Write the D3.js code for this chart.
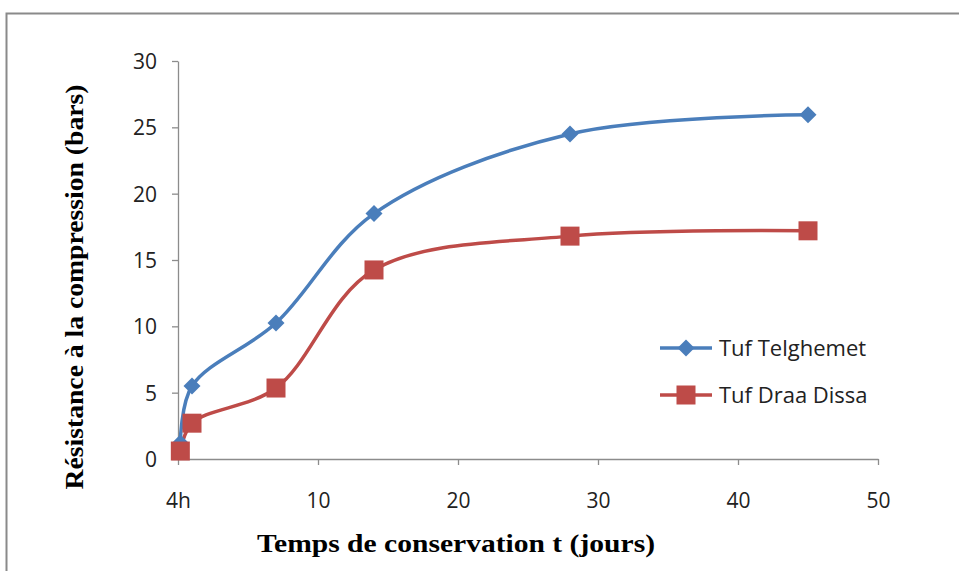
<!DOCTYPE html>
<html><head><meta charset="utf-8">
<script src="https://cdn.jsdelivr.net/npm/d3@7"></script>
<style>body{margin:0;background:#fff;} svg{display:block;}</style>
</head><body>
<svg id="c" width="959" height="571"></svg>
<script>
const days = [1/6, 1, 7, 14, 28, 45];
const telghemet = [1.2, 5.5, 10.25, 18.5, 24.5, 25.95];
const draaDissa = [0.6, 2.7, 5.35, 14.25, 16.8, 17.2];
const xTicks = [0, 10, 20, 30, 40, 50];
const xTickLabels = ["4h", "10", "20", "30", "40", "50"];
const yTicks = [0, 5, 10, 15, 20, 25, 30];
const seriesNames = ["Tuf Telghemet", "Tuf Draa Dissa"];
const colors = ["#4a7ebb", "#be4b48"];
const sans = "'Open Sans', 'Noto Sans', sans-serif";
const serif = "'Liberation Serif', 'Times New Roman', serif";

const svg = d3.select("#c");
svg.append("rect").attr("x", 6.5).attr("y", 13.5).attr("width", 1000).attr("height", 1000)
  .attr("fill", "#fff").attr("stroke", "#8a8a8a").attr("stroke-width", 2);

const x = d3.scaleLinear().domain([0, 50]).range([178, 878]);
const y = d3.scaleLinear().domain([0, 30]).range([459, 61]);
const axisColor = "#8c8c8c";

const gx = svg.append("g").attr("transform", "translate(0,459)")
  .call(d3.axisBottom(x).tickValues(xTicks).tickSize(6).tickSizeOuter(0)
    .tickFormat((d, i) => xTickLabels[i]));
gx.select(".domain").attr("stroke", axisColor).attr("stroke-width", 1.3);
gx.selectAll(".tick line").attr("stroke", axisColor).attr("stroke-width", 1.3);
gx.selectAll(".tick text").attr("fill", "#222").attr("font-family", sans)
  .attr("font-size", 21).attr("dy", 0).attr("y", 49);

const gy = svg.append("g").attr("transform", "translate(178,0)")
  .call(d3.axisLeft(y).tickValues(yTicks).tickSize(6).tickSizeOuter(0));
gy.select(".domain").attr("stroke", axisColor).attr("stroke-width", 1.3);
gy.selectAll(".tick line").attr("stroke", axisColor).attr("stroke-width", 1.3);
gy.selectAll(".tick text").attr("fill", "#222").attr("font-family", sans)
  .attr("font-size", 21).attr("x", -21).attr("dy", "0.35em");

const line = d3.line().x(d => x(d[0])).y(d => y(d[1])).curve(d3.curveCatmullRom.alpha(0.5));
const data = [telghemet, draaDissa].map(s => days.map((d, i) => [d, s[i]]));

data.forEach((pts, k) => {
  svg.append("path").datum(pts).attr("d", line).attr("fill", "none")
    .attr("stroke", colors[k]).attr("stroke-width", 3.5);
});
const diamondPath = d3.symbol().type(d3.symbolSquare).size(145)();
svg.append("g").selectAll("path").data(data[0]).join("path")
  .attr("d", diamondPath)
  .attr("transform", d => `translate(${x(d[0])},${y(d[1])}) rotate(45)`)
  .attr("fill", colors[0]);
svg.append("g").selectAll("rect").data(data[1]).join("rect")
  .attr("x", d => x(d[0]) - 9.5).attr("y", d => y(d[1]) - 9.5)
  .attr("width", 19).attr("height", 19).attr("fill", colors[1]);

// legend
const leg = svg.append("g");
seriesNames.forEach((name, k) => {
  const ly = 348 + k * 47;
  leg.append("line").attr("x1", 660).attr("x2", 712).attr("y1", ly).attr("y2", ly)
    .attr("stroke", colors[k]).attr("stroke-width", 3.5);
  if (k === 0) {
    leg.append("path").attr("d", diamondPath)
      .attr("transform", `translate(686,${ly}) rotate(45)`).attr("fill", colors[0]);
  } else {
    leg.append("rect").attr("x", 686 - 9.5).attr("y", ly - 9.5).attr("width", 19).attr("height", 19)
      .attr("fill", colors[1]);
  }
  leg.append("text").attr("x", 719).attr("y", ly).attr("dy", "0.35em")
    .attr("font-family", sans).attr("font-size", 22)
    .attr("fill", "#222").text(name);
});

svg.append("text").attr("x", 456).attr("y", 552).attr("text-anchor", "middle")
  .attr("font-family", serif).attr("font-weight", "bold")
  .attr("font-size", 26).attr("textLength", 398).attr("lengthAdjust", "spacingAndGlyphs")
  .attr("fill", "#000").text("Temps de conservation t (jours)");
svg.append("text").attr("transform", "translate(83,287) rotate(-90)").attr("text-anchor", "middle")
  .attr("font-family", serif).attr("font-weight", "bold")
  .attr("font-size", 26).attr("textLength", 405).attr("lengthAdjust", "spacingAndGlyphs")
  .attr("fill", "#000").text("Résistance à la compression (bars)");
</script>
</body></html>
